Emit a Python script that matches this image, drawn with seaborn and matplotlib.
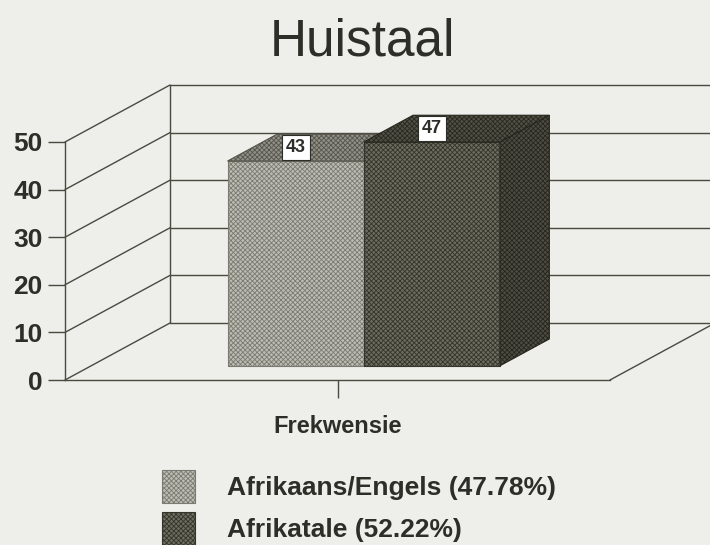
import pandas as pd
import matplotlib
matplotlib.use("Agg")
import matplotlib.pyplot as plt
import seaborn as sns
from matplotlib.patches import Polygon

# --- Data ---
groups = ["Frekwensie", "Frekwensie"]
languages = ["Afrikaans/Engels (47.78%)", "Afrikatale (52.22%)"]
counts = [43, 47]
y_ticks = [0, 10, 20, 30, 40, 50]

df = pd.DataFrame({"groep": groups, "taal": languages, "waarde": counts})

# --- Style ---
sns.set_style("white")
plt.rcParams["font.family"] = ["Liberation Sans", "DejaVu Sans"]
plt.rcParams["hatch.linewidth"] = 0.6

BG = "#eeeeea"
LINE = "#4a4a40"
TEXT = "#2e2e28"
HATCH = "xxxxxxx"

# front / top / side colours (face, hatch) per bar
front_cols = [("#bcbcb4", "#7a7a70"), ("#6c6c60", "#34342a")]
top_cols = [("#909088", "#55554b"), ("#505046", "#28281f")]
side_col = ("#4c4c42", "#26261e")

fig = plt.figure(figsize=(7.1, 5.45), dpi=100, facecolor=BG)
ax = fig.add_axes([65 / 710, 165 / 545, 545 / 710, 238 / 545])
ax.set_facecolor("none")

sns.barplot(data=df, x="groep", y="waarde", hue="taal",
            palette=[c[0] for c in front_cols], ax=ax, legend=False,
            saturation=1, zorder=3)

ax.set_xlim(-0.8, 0.8)
ax.set_ylim(0, 50)

# depth vector (full floor depth) expressed in data units
pos = ax.get_position()
ax_w_px = pos.width * 710
ax_h_px = pos.height * 545
DX = 105 / ax_w_px * 1.6
DY = 57 / ax_h_px * 50
F_FRONT, F_BACK = 0.25, 0.72

# --- walls and floor ---
x_left, x_right = ax.get_xlim()
for v in y_ticks:
    ax.plot([x_left, x_left + DX], [v, v + DY], color=LINE, lw=1, clip_on=False, zorder=1)
    ax.plot([x_left + DX, x_right + DX], [v + DY, v + DY], color=LINE, lw=1,
            clip_on=False, zorder=1)
ax.plot([x_left + DX, x_left + DX], [DY, 50 + DY], color=LINE, lw=1, clip_on=False, zorder=1)
ax.plot([x_right, x_right + DX], [0, DY], color=LINE, lw=1, clip_on=False, zorder=1)

# --- 3D bars ---
bars = sorted(ax.patches, key=lambda p: p.get_x())
for i, p in enumerate(bars):
    x0 = p.get_x()
    w = p.get_width()
    h = p.get_height()
    x1 = x0 + w
    fx, fy = F_FRONT * DX, F_FRONT * DY
    bx, by = F_BACK * DX, F_BACK * DY
    z = 3 + i * 3

    p.set_x(x0 + fx)
    p.set_y(fy)
    p.set_facecolor(front_cols[i][0])
    p.set_edgecolor(front_cols[i][1])
    p.set_hatch(HATCH)
    p.set_linewidth(0.8)
    p.set_zorder(z)
    p.set_clip_on(False)

    top = Polygon([(x0 + fx, h + fy), (x0 + bx, h + by), (x1 + bx, h + by), (x1 + fx, h + fy)],
                  closed=True, facecolor=top_cols[i][0], edgecolor=top_cols[i][1],
                  hatch=HATCH, lw=0.8, zorder=z + 1, clip_on=False)
    ax.add_patch(top)
    if i == len(bars) - 1:
        side = Polygon([(x1 + fx, fy), (x1 + fx, h + fy), (x1 + bx, h + by), (x1 + bx, by)],
                       closed=True, facecolor=side_col[0], edgecolor=side_col[1],
                       hatch=HATCH, lw=0.8, zorder=z + 1, clip_on=False)
        ax.add_patch(side)

    ax.text(x0 + fx + w / 2, h + (fy + by) / 2, f"{counts[i]}", ha="center", va="center",
            fontsize=13, fontweight="bold", color=TEXT, zorder=20,
            bbox=dict(boxstyle="square,pad=0.22", facecolor="white", edgecolor=TEXT, lw=0.8))

# --- axes styling ---
for s in ["top", "right"]:
    ax.spines[s].set_visible(False)
for s in ["left", "bottom"]:
    ax.spines[s].set_color(LINE)
    ax.spines[s].set_linewidth(1)
    ax.spines[s].set_zorder(2)

ax.set_yticks(y_ticks)
ax.tick_params(axis="y", length=12, width=1, color=LINE, pad=4, labelsize=19,
               labelcolor=TEXT, left=True)
ax.tick_params(axis="x", length=13, width=1, color=LINE, pad=12, labelsize=17,
               labelcolor=TEXT, bottom=True)
for lab in ax.get_yticklabels() + ax.get_xticklabels():
    lab.set_fontweight("bold")
ax.set_xlabel("")
ax.set_ylabel("")

fig.text(362 / 710, 1 - 55 / 545, "Huistaal", ha="center", va="baseline",
         fontsize=37, color=TEXT)

# --- legend ---
handles = [plt.Rectangle((0, 0), 1, 1, facecolor=front_cols[i][0], edgecolor=front_cols[i][1],
                         hatch=HATCH, lw=0.8) for i in range(len(languages))]
leg = fig.legend(handles, languages, loc="upper left", bbox_to_anchor=(162 / 710, 1 - 470 / 545),
                 frameon=False, borderpad=0, borderaxespad=0, handlelength=1.25,
                 handleheight=1.55, handletextpad=1.2, labelspacing=0.35,
                 prop={"size": 19, "weight": "bold"})
for t in leg.get_texts():
    t.set_color(TEXT)

plt.savefig("out.png", dpi=100, facecolor=BG)
plt.close(fig)
